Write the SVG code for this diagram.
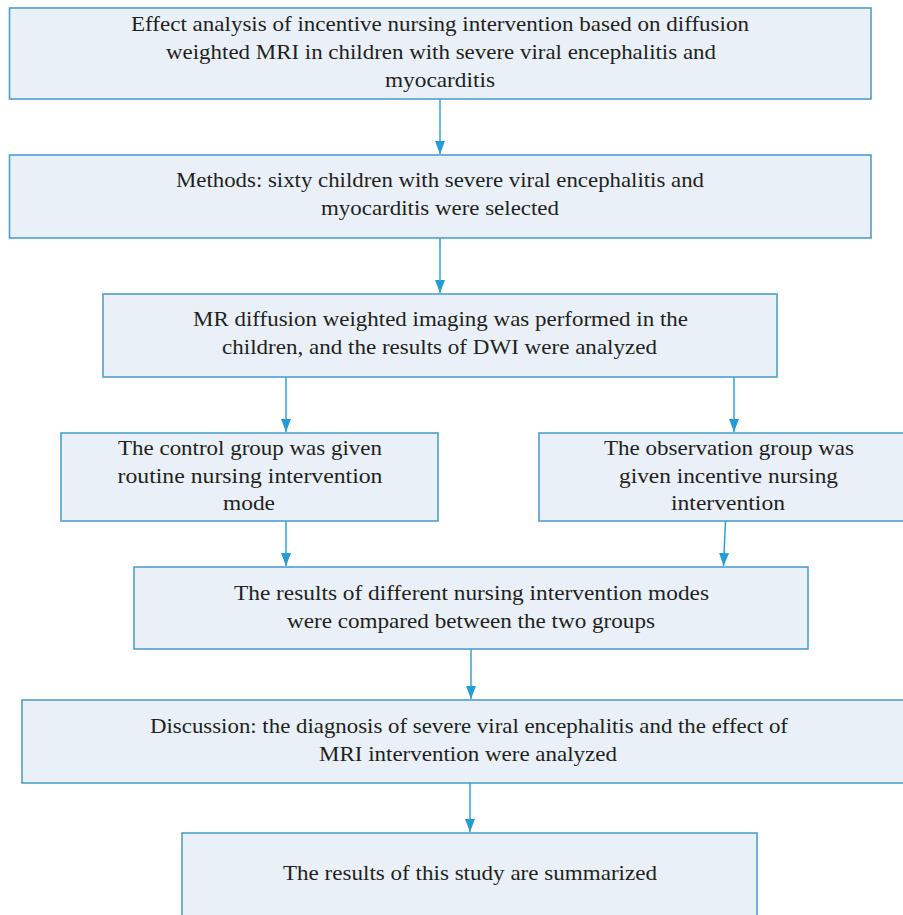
<svg xmlns="http://www.w3.org/2000/svg" width="903" height="915" viewBox="0 0 903 915">
<style>
.box{fill:#e9f0f7;stroke:#4f9fcc;stroke-width:1.6}
.t{font-family:"Liberation Serif","DejaVu Serif","Times New Roman",serif;font-size:21px;fill:#231f20;text-anchor:middle}
.c{stroke:#229dd8;stroke-width:1.4;fill:none}
</style>
<defs>
<marker id="ah" viewBox="0 0 13 10" refX="13" refY="5" markerWidth="13" markerHeight="10" markerUnits="userSpaceOnUse" orient="auto">
<path d="M0,0 L13,5 L0,10 Z" fill="#229dd8"/>
</marker>
</defs>
<rect width="903" height="915" fill="#ffffff"/>
<g id="connectors">
<line class="c" x1="440" y1="99" x2="440" y2="154" marker-end="url(#ah)"/>
<line class="c" x1="440" y1="238" x2="440" y2="293" marker-end="url(#ah)"/>
<line class="c" x1="286" y1="377" x2="286" y2="432" marker-end="url(#ah)"/>
<line class="c" x1="734" y1="377" x2="734" y2="432" marker-end="url(#ah)"/>
<line class="c" x1="286" y1="521" x2="286" y2="566" marker-end="url(#ah)"/>
<line class="c" x1="725.5" y1="521" x2="723.5" y2="566" marker-end="url(#ah)"/>
<line class="c" x1="471" y1="649" x2="471" y2="699" marker-end="url(#ah)"/>
<line class="c" x1="470" y1="783" x2="470" y2="832" marker-end="url(#ah)"/>
</g>
<g id="n1">
<rect class="box" x="9.5" y="8" width="861.5" height="91"/>
<text class="t" x="440" y="31" textLength="618" lengthAdjust="spacingAndGlyphs">Effect analysis of incentive nursing intervention based on diffusion</text>
<text class="t" x="441" y="59" textLength="550" lengthAdjust="spacingAndGlyphs">weighted MRI in children with severe viral encephalitis and</text>
<text class="t" x="440" y="87" textLength="110" lengthAdjust="spacingAndGlyphs">myocarditis</text>
</g>
<g id="n2">
<rect class="box" x="9.5" y="155" width="861.5" height="83"/>
<text class="t" x="440" y="187" textLength="528" lengthAdjust="spacingAndGlyphs">Methods: sixty children with severe viral encephalitis and</text>
<text class="t" x="440" y="215" textLength="238" lengthAdjust="spacingAndGlyphs">myocarditis were selected</text>
</g>
<g id="n3">
<rect class="box" x="103" y="294" width="674" height="83"/>
<text class="t" x="440.5" y="326" textLength="495" lengthAdjust="spacingAndGlyphs">MR diffusion weighted imaging was performed in the</text>
<text class="t" x="439.5" y="354" textLength="435" lengthAdjust="spacingAndGlyphs">children, and the results of DWI were analyzed</text>
</g>
<g id="n4">
<rect class="box" x="61" y="433" width="377" height="88"/>
<text class="t" x="250" y="455" textLength="264" lengthAdjust="spacingAndGlyphs">The control group was given</text>
<text class="t" x="250" y="483" textLength="265" lengthAdjust="spacingAndGlyphs">routine nursing intervention</text>
<text class="t" x="249" y="510" textLength="52" lengthAdjust="spacingAndGlyphs">mode</text>
</g>
<g id="n5">
<rect class="box" x="539" y="433" width="378" height="88"/>
<text class="t" x="729" y="455" textLength="250" lengthAdjust="spacingAndGlyphs">The observation group was</text>
<text class="t" x="728.5" y="483" textLength="219" lengthAdjust="spacingAndGlyphs">given incentive nursing</text>
<text class="t" x="728" y="510" textLength="114" lengthAdjust="spacingAndGlyphs">intervention</text>
</g>
<g id="n6">
<rect class="box" x="134" y="567" width="674" height="82"/>
<text class="t" x="471.5" y="600" textLength="475" lengthAdjust="spacingAndGlyphs">The results of different nursing intervention modes</text>
<text class="t" x="471" y="628" textLength="368" lengthAdjust="spacingAndGlyphs">were compared between the two groups</text>
</g>
<g id="n7">
<rect class="box" x="22" y="700" width="894" height="83"/>
<text class="t" x="469" y="733" textLength="638" lengthAdjust="spacingAndGlyphs">Discussion: the diagnosis of severe viral encephalitis and the effect of</text>
<text class="t" x="468" y="761" textLength="298" lengthAdjust="spacingAndGlyphs">MRI intervention were analyzed</text>
</g>
<g id="n8">
<rect class="box" x="182" y="833" width="575" height="100"/>
<text class="t" x="470" y="880" textLength="374" lengthAdjust="spacingAndGlyphs">The results of this study are summarized</text>
</g>
</svg>
